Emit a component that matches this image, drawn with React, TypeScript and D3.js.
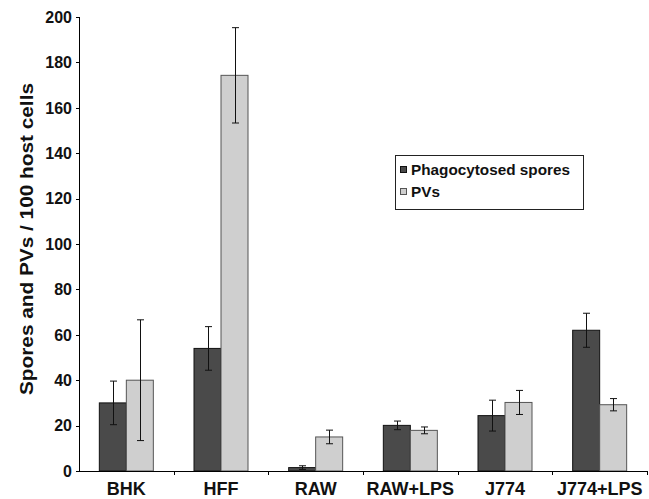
import React from 'react';
import * as d3 from 'd3';

const categories = ['BHK', 'HFF', 'RAW', 'RAW+LPS', 'J774', 'J774+LPS'];
const seriesNames = ['Phagocytosed spores', 'PVs'];
const sporeValues = [30, 54, 1.5, 20.1, 24.4, 62];
const sporeErrors = [9.6, 9.6, 0.8, 1.9, 6.8, 7.5];
const pvValues = [40, 174.3, 15, 17.9, 30.2, 29.2];
const pvErrors = [26.6, 21, 3, 1.5, 5.3, 2.7];
const yTicks = [0, 20, 40, 60, 80, 100, 120, 140, 160, 180, 200];

const W = 649, H = 499;
const left = 79, right = 647, top = 17, bottom = 471;
const fills = ['#4a4a4a', '#cfcfcf'];
const strokes = ['#111', '#555'];
const font = 'Liberation Sans, Arial, sans-serif';

export default function App() {
  const x = d3.scaleBand<string>().domain(categories).range([left, right]);
  const inner = d3.scaleBand<string>().domain(seriesNames).range([0, 54]);
  const y = d3.scaleLinear().domain([0, 200]).range([bottom, top]);
  const series = [
    { values: sporeValues, errors: sporeErrors },
    { values: pvValues, errors: pvErrors },
  ];
  const groupOffset = (x.bandwidth() - 54) / 2;

  return (
    <div style={{ position: 'absolute', left: 0, top: 0 }}>
      <svg width={W} height={H} style={{ display: 'block', background: '#fff' }} fontFamily={font}>
        {/* bars */}
        {series.map((s, si) =>
          categories.map((c, i) => {
            const bx = (x(c) ?? 0) + groupOffset + (inner(seriesNames[si]) ?? 0);
            const by = y(s.values[i]);
            return (
              <rect key={`${si}-${c}`} x={bx} y={by} width={inner.bandwidth()} height={bottom - by}
                fill={fills[si]} stroke={strokes[si]} strokeWidth={1} />
            );
          })
        )}
        {/* error bars */}
        {series.map((s, si) =>
          categories.map((c, i) => {
            const cx = Math.round((x(c) ?? 0) + groupOffset + (inner(seriesNames[si]) ?? 0) + inner.bandwidth() / 2) + 0.5;
            const y1 = y(s.values[i] + s.errors[i]);
            const y2 = y(s.values[i] - s.errors[i]);
            return (
              <g key={`e${si}-${c}`} stroke="#111" strokeWidth={1}>
                <line x1={cx} x2={cx} y1={y1} y2={y2} />
                <line x1={cx - 3.5} x2={cx + 3.5} y1={y1} y2={y1} />
                <line x1={cx - 3.5} x2={cx + 3.5} y1={y2} y2={y2} />
              </g>
            );
          })
        )}
        {/* y axis */}
        <line x1={left + 0.5} x2={left + 0.5} y1={top} y2={bottom} stroke="#000" />
        {yTicks.map(t => (
          <g key={t}>
            <line x1={left - 3} x2={left} y1={Math.round(y(t)) + 0.5} y2={Math.round(y(t)) + 0.5} stroke="#000" />
            <text x={left - 7} y={y(t)} dy="0.36em" textAnchor="end" fontSize={16} fontWeight="bold" fill="#111">{t}</text>
          </g>
        ))}
        {/* x axis */}
        <line x1={left} x2={right} y1={bottom + 0.5} y2={bottom + 0.5} stroke="#000" />
        {categories.map(c => (
          <g key={c}>
            <line x1={Math.round((x(c) ?? 0) + x.bandwidth()) + 0.5} x2={Math.round((x(c) ?? 0) + x.bandwidth()) + 0.5}
              y1={bottom} y2={bottom + 4} stroke="#000" />
            <text x={(x(c) ?? 0) + x.bandwidth() / 2} y={495} textAnchor="middle" fontSize={18} fontWeight="bold" fill="#111">{c}</text>
          </g>
        ))}
        {/* y title */}
        <text transform={`translate(33,239) rotate(-90)`} textAnchor="middle" textLength={312} lengthAdjust="spacingAndGlyphs"
          fontSize={18} fontWeight="bold" fill="#111">Spores and PVs / 100 host cells</text>
        {/* legend */}
        <rect x={395.5} y={155.5} width={188} height={54} fill="#fff" stroke="#222" />
        {seriesNames.map((n, i) => (
          <g key={n}>
            <rect x={400.5} y={166.5 + i * 22} width={6} height={6} fill={fills[i]} stroke={strokes[i]} />
            <text x={411} y={175 + i * 22} fontSize={15.3} fontWeight="bold" fill="#111">{n}</text>
          </g>
        ))}
      </svg>
    </div>
  );
}
